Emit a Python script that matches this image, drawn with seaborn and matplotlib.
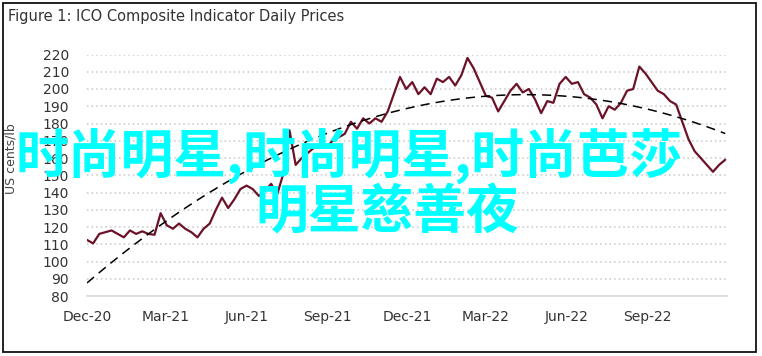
import matplotlib
matplotlib.use("Agg")
import matplotlib.pyplot as plt
import matplotlib.dates as mdates
from matplotlib.patches import Rectangle
import numpy as np
import pandas as pd
import seaborn as sns

# weekly prices (US cents/lb), starting 1 Dec 2020
start_date = "2020-12-01"
prices = [
    112.5, 110.5, 116, 117, 118, 116, 114, 118, 116, 117.5,
    116, 115.5, 128, 121, 119, 122, 119, 117, 114, 119,
    122, 130, 137, 131, 136, 142, 144, 142, 138, 141,
    145, 139, 151, 176, 156, 160, 163, 166, 168, 166,
    170, 172, 174, 181, 177, 183, 180, 183, 181, 187,
    197, 207, 200, 204, 197, 201, 197, 206, 204, 207,
    202, 208, 218, 212, 204, 196, 195, 187, 193, 199,
    203, 198, 200, 194, 186, 193, 192, 203, 207, 203,
    204, 197, 195, 191, 183, 190, 188, 192, 199, 200,
    213, 209, 204, 199, 197, 193, 191, 181, 171, 164,
    160, 156, 152, 156, 159,
]
tick_dates = ["2020-12-01", "2021-03-01", "2021-06-01", "2021-09-01",
              "2021-12-01", "2022-03-01", "2022-06-01", "2022-09-01"]
y_ticks = list(range(80, 221, 10))

title = "Figure 1: ICO Composite Indicator Daily Prices"
y_label = "US cents/lb"
legend_label = "2$^{\\rm nd}$ Degree Polynomal Funtion"
watermark_1 = "时尚明星,时尚明星,时尚芭莎"
watermark_2 = "明星慈善夜"

dates = pd.date_range(start_date, periods=len(prices), freq="7D")
df = pd.DataFrame({"date": mdates.date2num(dates), "price": prices})

sns.set_style("white")
plt.rcParams["font.family"] = ["Liberation Sans Narrow", "DejaVu Sans"]
plt.rcParams["mathtext.fontset"] = "custom"
plt.rcParams["mathtext.rm"] = "Liberation Sans Narrow"

fig = plt.figure(figsize=(7.62, 3.56), dpi=100)
ax = fig.add_axes([87 / 762, 1 - 296 / 356, 640 / 762, (296 - 54.5) / 356])

sns.lineplot(data=df, x="date", y="price", color="#6b1228", linewidth=1.6, ax=ax)
sns.regplot(data=df, x="date", y="price", order=2, scatter=False, ci=None,
            truncate=True, ax=ax,
            line_kws=dict(color="black", linestyle=(0, (6, 4)), linewidth=1.1,
                          label=legend_label))

ax.set_xlim(mdates.date2num(pd.Timestamp("2020-12-01")),
            mdates.date2num(pd.Timestamp("2022-12-01")))
ax.set_ylim(80, 220)
ax.set_yticks(y_ticks)
ax.set_xticks(mdates.date2num(pd.to_datetime(tick_dates)))
ax.xaxis.set_major_formatter(mdates.DateFormatter("%b-%y"))
ax.tick_params(axis="both", length=0, labelsize=10, colors="#333333")
ax.tick_params(axis="y", pad=13)
ax.tick_params(axis="x", pad=10)
ax.set_xlabel("")
ax.set_ylabel(y_label, fontsize=9, color="#444444")
ax.yaxis.set_label_coords(-0.109, 0.57)

ax.yaxis.grid(True, color="#c8c8c8", linestyle=(0, (1, 2)), linewidth=1.1)
ax.xaxis.grid(False)
for side in ["top", "right", "left"]:
    ax.spines[side].set_visible(False)
ax.spines["bottom"].set_color("#d9d9d9")
ax.spines["bottom"].set_linewidth(1.2)

leg = ax.legend(loc="lower right", bbox_to_anchor=(1.01, -0.29), frameon=False,
                fontsize=7.5, handlelength=1.2, handletextpad=0.5, borderpad=0)
for t in leg.get_texts():
    t.set_color("#333333")

fig.text(8 / 762, 1 - 17 / 356, title, fontsize=10.5, color="#333333",
         ha="left", va="center")

fig.text(349 / 762, 1 - 157 / 356, watermark_1, fontsize=38, color="#00ffff",
         fontweight="bold", ha="center", va="center",
         family=["Noto Sans CJK SC", "DejaVu Sans"])
fig.text(387 / 762, 1 - 213 / 356, watermark_2, fontsize=38, color="#00ffff",
         fontweight="bold", ha="center", va="center",
         family=["Noto Sans CJK SC", "DejaVu Sans"])

fig.patches.append(Rectangle((2.5 / 762, 1 - 352 / 356), 753 / 762, 349.5 / 356,
                             transform=fig.transFigure, fill=False,
                             edgecolor="#111111", linewidth=1.3))

fig.savefig("out.png", dpi=100)
